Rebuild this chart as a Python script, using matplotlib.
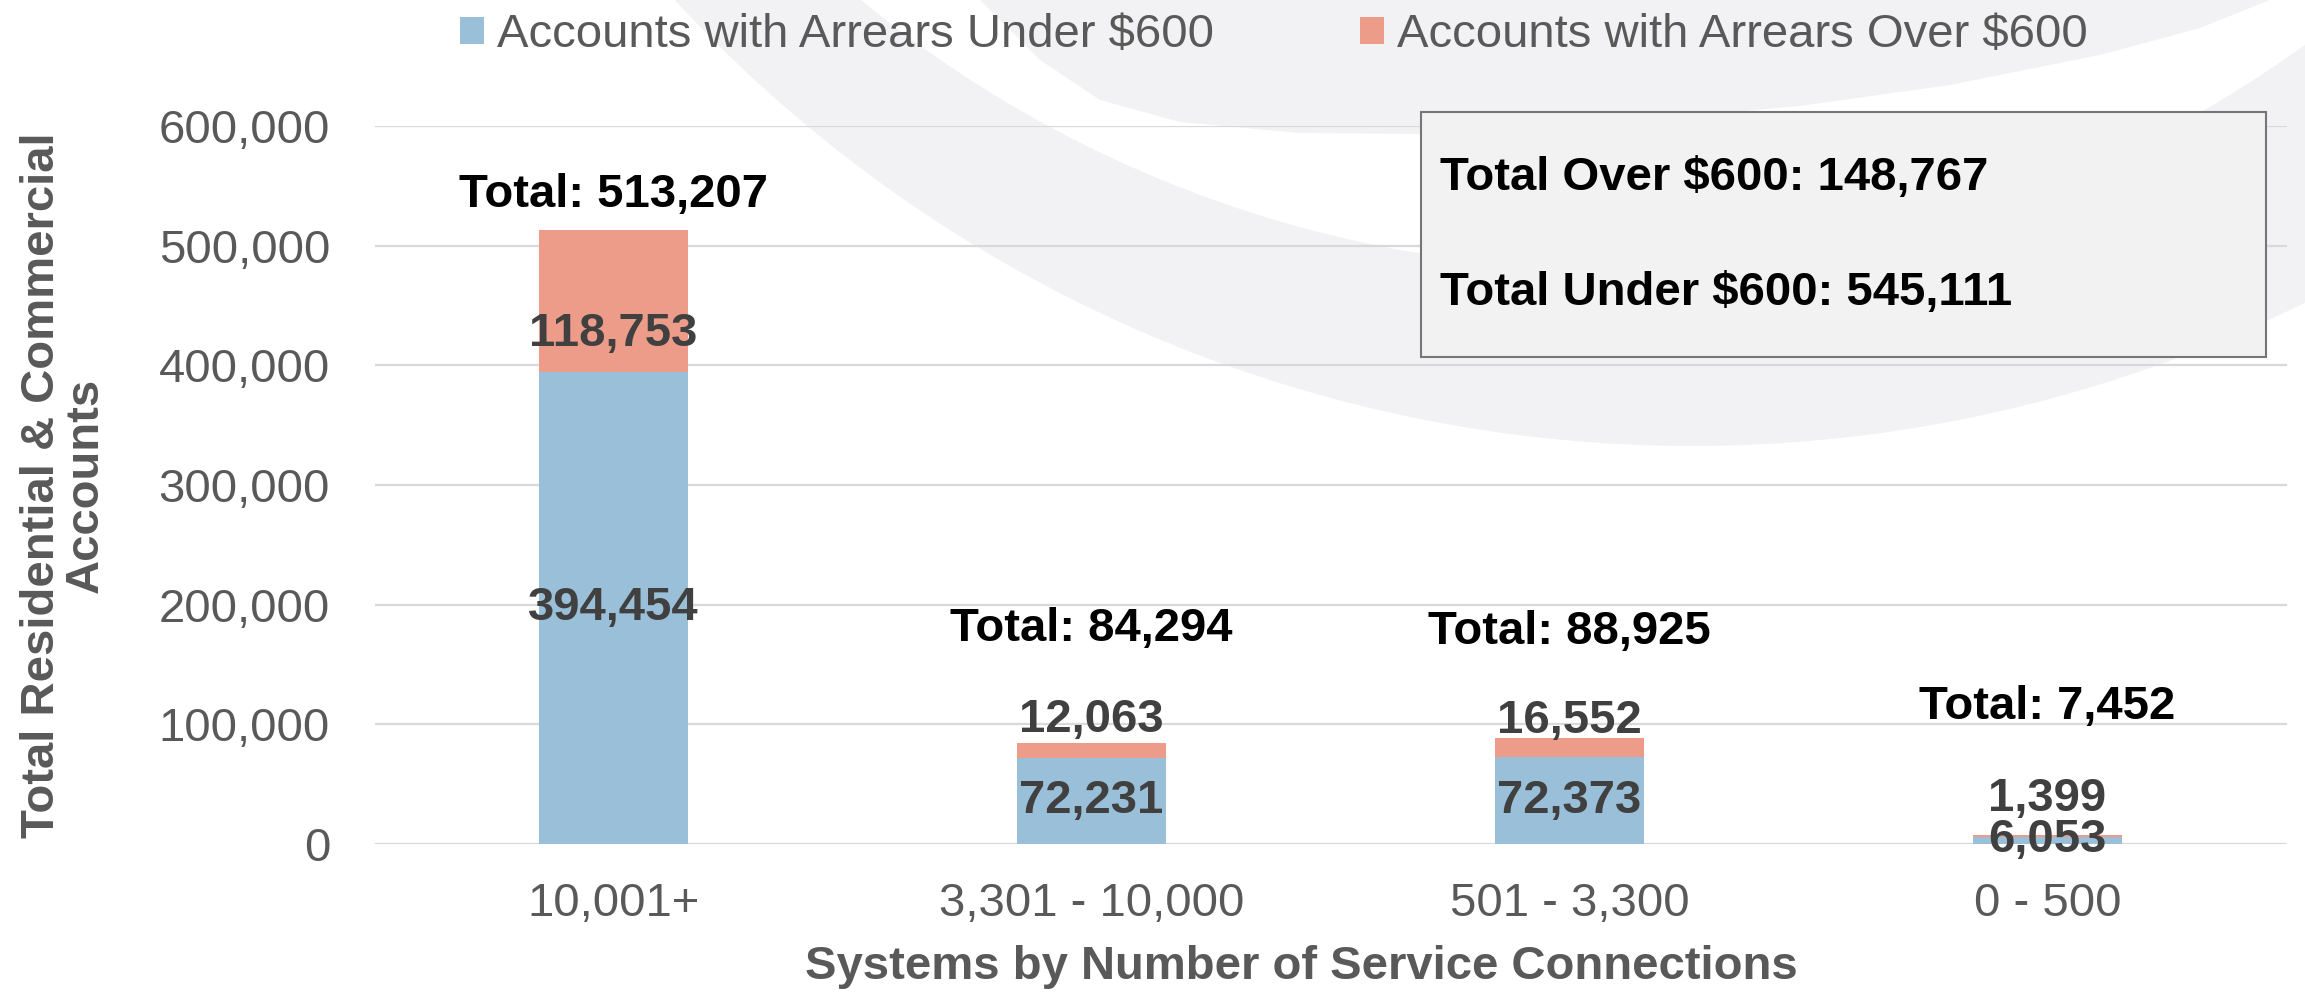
import matplotlib
matplotlib.use("Agg")
from matplotlib import pyplot as plt
from matplotlib.patches import Circle, Rectangle, Polygon
from matplotlib.ticker import MultipleLocator, FuncFormatter
import numpy as np

categories = ["10,001+", "3,301 - 10,000", "501 - 3,300", "0 - 500"]
under_600 = [394454, 72231, 72373, 6053]
over_600 = [118753, 12063, 16552, 1399]
totals = [513207, 84294, 88925, 7452]
total_over = 148767
total_under = 545111
series_names = ["Accounts with Arrears Under $600", "Accounts with Arrears Over $600"]

# label nudges in points (the labels were hand placed in the original)
over_nudge = [-24, 21.5, 19.4, 26.6]
total_nudge = [25, 82, 76, 92]

blue = "#9abfd8"
salmon = "#ed9c8a"
grey_txt = "#595959"

plt.rcParams['font.family'] = ['Liberation Sans', 'DejaVu Sans']

W, H = 2305, 994
fig = plt.figure(figsize=(W / 100, H / 100), dpi=100)

# faint swoosh watermark behind everything, in pixel space
bg = fig.add_axes([0, 0, 1, 1], zorder=0)
bg.set_xlim(0, W)
bg.set_ylim(H, 0)
bg.axis('off')
swoosh = "#f2f2f4"
bg.add_patch(Circle((1692, -937), 1383, color=swoosh, lw=0))
bg.add_patch(Circle((1612, -914), 1183, color="white", lw=0))
top_edge = [(980, 0), (1040, 60), (1100, 100), (1180, 122), (1300, 133), (1421, 134),
            (1600, 124), (1800, 106), (1950, 85), (2100, 55), (2200, 28), (2270, 0)]
bg.add_patch(Polygon(top_edge, closed=True, color=swoosh, lw=0))

ax = fig.add_axes([374.5 / W, 1 - 844 / H, 1912 / W, 718 / H], zorder=1)
ax.patch.set_alpha(0)

x = np.arange(len(categories))
b1 = ax.bar(x, under_600, width=0.31, color=blue, zorder=2)
b2 = ax.bar(x, over_600, bottom=under_600, width=0.31, color=salmon, zorder=2)

ax.set_xlim(-0.5, len(categories) - 0.5)
ax.set_ylim(0, 600000)
ax.yaxis.set_major_locator(MultipleLocator(100000))
ax.yaxis.set_major_formatter(FuncFormatter(lambda v, p: f"{v:,.0f}"))
ax.grid(axis='y', color='#d9d9d9', lw=1.6, zorder=0)
ax.set_axisbelow(True)
for s in ax.spines.values():
    s.set_visible(False)
ax.tick_params(length=0, labelsize=34, labelcolor=grey_txt)
ax.tick_params(axis='y', pad=32)
ax.tick_params(axis='x', pad=27)
ax.set_xticks(x, categories)

lab = dict(ha='center', va='center', fontsize=34, fontweight='bold')
for i in x:
    ax.annotate(f"{under_600[i]:,}", (i, under_600[i] / 2), color='#404040', **lab)
    ax.annotate(f"{over_600[i]:,}", (i, under_600[i] + over_600[i] / 2),
                xytext=(0, over_nudge[i]), textcoords='offset points', color='#404040', **lab)
    ax.annotate(f"Total: {totals[i]:,}", (i, totals[i]),
                xytext=(0, total_nudge[i]), textcoords='offset points', color='black', **lab)

ax.set_ylabel("Total Residential & Commercial\nAccounts", fontsize=34, fontweight='bold',
              color=grey_txt, linespacing=1.0, va='center')
ax.yaxis.set_label_coords(-0.1624, 0.5)
ax.set_xlabel("Systems by Number of Service Connections", fontsize=34, fontweight='bold',
              color=grey_txt, va='center')
ax.xaxis.set_label_coords(0.4846, -0.171)

fig.legend([b1, b2], series_names, loc='center', bbox_to_anchor=(1274 / W, 1 - 35 / H),
           ncol=2, frameon=False, fontsize=34, handlelength=0.5, handleheight=0.5,
           handletextpad=0.28, columnspacing=3.1, labelcolor=grey_txt)

# summary box
fig.add_artist(Rectangle((1420.5 / W, 1 - 357 / H), 845.5 / W, 245 / H, transform=fig.transFigure,
                         facecolor='#f2f2f2', edgecolor='#767676', lw=1.5, zorder=5))
fig.text(1440 / W, 1 - 178 / H, f"Total Over $600: {total_over:,}", ha='left', va='center',
         fontsize=34, fontweight='bold', zorder=6)
fig.text(1440 / W, 1 - 293 / H, f"Total Under $600: {total_under:,}", ha='left', va='center',
         fontsize=34, fontweight='bold', zorder=6)

fig.savefig("out.png", dpi=100)
